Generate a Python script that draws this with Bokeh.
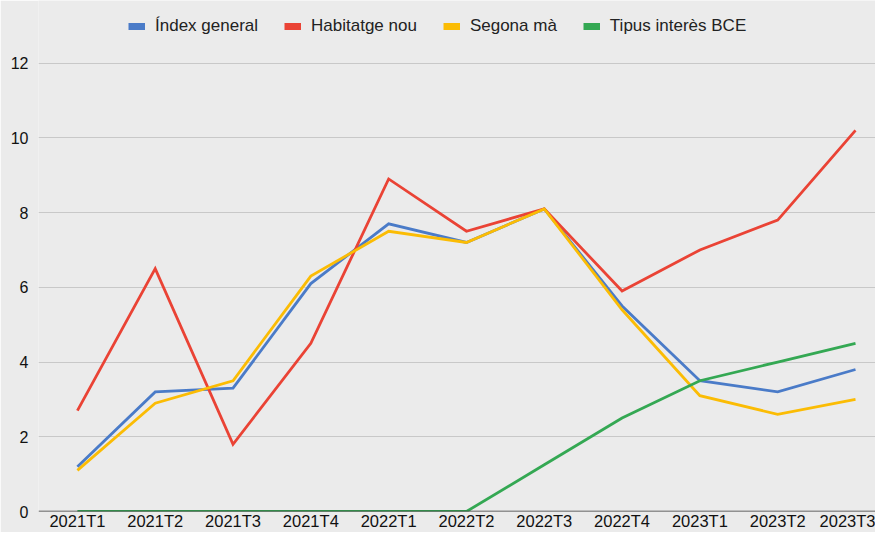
from bokeh.plotting import figure
from bokeh.models import ColumnDataSource, Legend, LegendItem, Range1d, FixedTicker, Span
from bokeh.embed import file_html
from bokeh.resources import INLINE

categories = ["2021T1", "2021T2", "2021T3", "2021T4", "2022T1", "2022T2",
              "2022T3", "2022T4", "2023T1", "2023T2", "2023T3"]
index_general = [1.2, 3.2, 3.3, 6.1, 7.7, 7.2, 8.1, 5.5, 3.5, 3.2, 3.8]
habitatge_nou = [2.7, 6.5, 1.8, 4.5, 8.9, 7.5, 8.1, 5.9, 7.0, 7.8, 10.2]
segona_ma = [1.1, 2.9, 3.5, 6.3, 7.5, 7.2, 8.1, 5.4, 3.1, 2.6, 3.0]
tipus_bce = [0, 0, 0, 0, 0, 0, 1.25, 2.5, 3.5, 4.0, 4.5]
y_ticks = [0, 2, 4, 6, 8, 10, 12]

series = [
    ("Índex general", index_general, "#4a7bc8"),
    ("Habitatge nou", habitatge_nou, "#ea4335"),
    ("Segona mà", segona_ma, "#fbbc04"),
    ("Tipus interès BCE", tipus_bce, "#34a853"),
]

BG = "#ebebeb"
FONT = "Liberation Sans"
NAN = float("nan")

xs = list(range(len(categories)))

p = figure(width=875, height=532, output_backend="svg", toolbar_location=None,
           x_range=Range1d(-0.5, 10.257), y_range=Range1d(0, 13.676),
           min_border_left=38, min_border_right=0, min_border_top=0, min_border_bottom=18,
           background_fill_color=BG, border_fill_color=BG)
p.outline_line_color = None

p.xgrid.grid_line_color = None
p.ygrid.ticker = FixedTicker(ticks=y_ticks)
p.ygrid.grid_line_color = "#c8c8c8"
p.ygrid.grid_line_width = 1.2

# baseline at zero (drawn beneath the series lines)
p.add_layout(Span(location=0, dimension="width", line_color="#333333",
                  line_width=1.3, level="glyph"))

items = []
for name, vals, col in series:
    src = ColumnDataSource(dict(x=xs, y=vals))
    p.line("x", "y", source=src, line_color=col, line_width=2.8, line_join="miter")
    leg = p.line(x=[NAN, NAN], y=[NAN, NAN], line_color=col, line_width=7)
    items.append(LegendItem(label=name, renderers=[leg]))

legend = Legend(items=items, orientation="horizontal", location=(90, 475),
                background_fill_alpha=0, border_line_color=None,
                label_text_font=FONT, label_text_font_size="17px", label_text_color="#222222",
                glyph_width=17, glyph_height=8, label_standoff=10, spacing=26,
                padding=0, margin=0)
p.add_layout(legend, "center")

p.xaxis.ticker = FixedTicker(ticks=xs)
p.xaxis.major_label_overrides = {i: c for i, c in enumerate(categories)}
p.xaxis.major_tick_line_color = None
p.xaxis.major_tick_out = 0
p.xaxis.major_tick_in = 0
p.xaxis.minor_tick_line_color = None
p.xaxis.axis_line_color = None
p.xaxis.major_label_text_font = FONT
p.xaxis.major_label_text_font_size = "16.5px"
p.xaxis.major_label_text_color = "#111111"
p.xaxis.major_label_standoff = 0

p.yaxis.ticker = FixedTicker(ticks=y_ticks)
p.yaxis.axis_line_color = None
p.yaxis.major_tick_line_color = None
p.yaxis.major_tick_out = 0
p.yaxis.major_tick_in = 0
p.yaxis.minor_tick_line_color = None
p.yaxis.major_label_text_font = FONT
p.yaxis.major_label_text_font_size = "16px"
p.yaxis.major_label_text_color = "#111111"
p.yaxis.major_label_standoff = 10

open("out.html", "w").write(file_html(p, INLINE))
